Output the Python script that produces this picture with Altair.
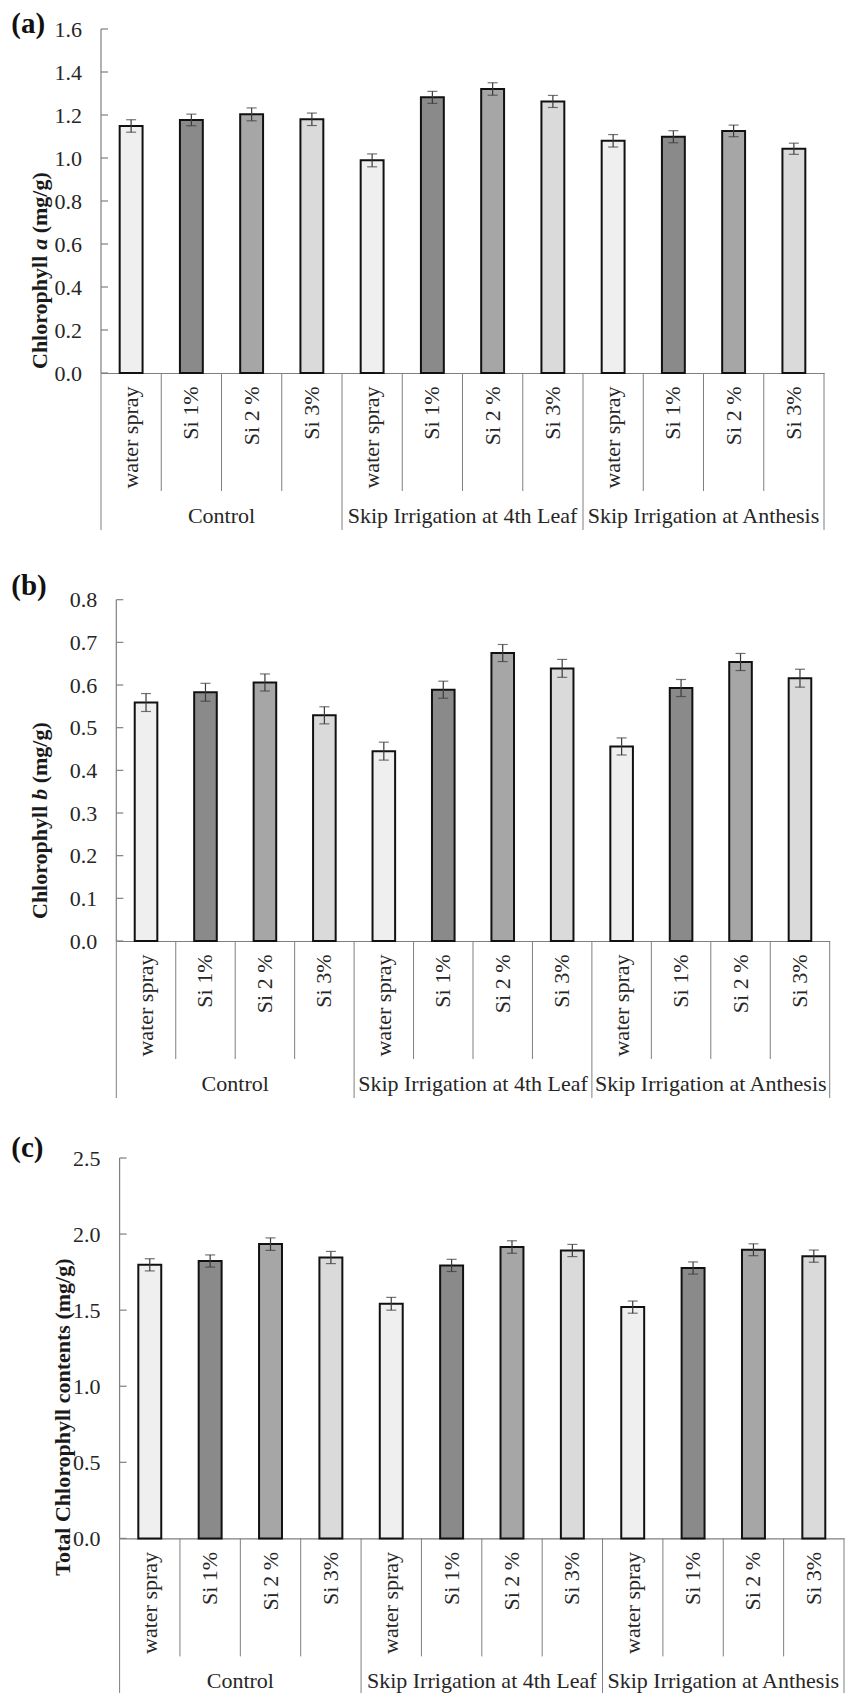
import altair as alt
import pandas as pd

groups = ["Control", "Skip Irrigation at 4th Leaf", "Skip Irrigation at Anthesis"]
treatments = ["water spray", "Si 1%", "Si 2 %", "Si 3%"]

chl_a = [1.149, 1.177, 1.203, 1.180, 0.989, 1.282, 1.321, 1.263, 1.080, 1.099, 1.126, 1.043]
chl_a_se = [0.029, 0.027, 0.030, 0.029, 0.030, 0.028, 0.029, 0.028, 0.029, 0.028, 0.027, 0.026]
chl_b = [0.559, 0.583, 0.606, 0.529, 0.445, 0.589, 0.675, 0.639, 0.456, 0.593, 0.654, 0.616]
chl_b_se = [0.021, 0.021, 0.020, 0.020, 0.021, 0.020, 0.020, 0.021, 0.020, 0.020, 0.020, 0.021]
chl_t = [1.798, 1.823, 1.934, 1.846, 1.542, 1.794, 1.915, 1.892, 1.520, 1.777, 1.897, 1.855]
chl_t_se = [0.040, 0.040, 0.041, 0.040, 0.042, 0.040, 0.041, 0.040, 0.040, 0.040, 0.039, 0.040]

ticks_a = [0.0, 0.2, 0.4, 0.6, 0.8, 1.0, 1.2, 1.4, 1.6]
ticks_b = [0.0, 0.1, 0.2, 0.3, 0.4, 0.5, 0.6, 0.7, 0.8]
ticks_c = [0.0, 0.5, 1.0, 1.5, 2.0, 2.5]

FONT = "Liberation Serif"
INK = "#262626"
LINE = "#7f7f7f"
ERR = "#3a3a3a"
FILLS = ["#efefef", "#8a8a8a", "#a6a6a6", "#dadada"]

keys = [f"{g}|{t}" for g in groups for t in treatments]


def one(label):
    return pd.DataFrame({"label": [label]})


def make_panel(values, errs, ticks, dmax, width, height, xoff, title_parts,
               title_x, title_bottom, letter, letter_y, anchor=False):
    df = pd.DataFrame({
        "key": keys,
        "group": [g for g in groups for t in treatments],
        "treat": [t for g in groups for t in treatments],
        "pos": [i for g in groups for i, t in enumerate(treatments)],
        "v": values,
        "lo": [v - e for v, e in zip(values, errs)],
        "hi": [v + e for v, e in zip(values, errs)],
    })
    xscale = alt.Scale(domain=keys, range=[xoff, xoff + width],
                       paddingInner=0, paddingOuter=0)
    xaxis = alt.Axis(title=None, labelExpr="split(datum.label, '|')[1]",
                     labelAngle=270, labelAlign="right", labelBaseline="middle",
                     labelPadding=13, labelFont=FONT, labelFontSize=22,
                     labelColor=INK, labelOverlap=False, labelLimit=300,
                     ticks=False, tickSize=0, domain=True, domainColor=LINE,
                     domainWidth=1.2, grid=False)
    yscale = alt.Scale(domain=[0, dmax], nice=False, zero=True)
    yaxis = alt.Axis(title=None, values=ticks, format=".1f", domain=False,
                     ticks=False, tickSize=0, labelPadding=19.5,
                     offset=(-xoff if xoff else 0), labelFont=FONT,
                     labelFontSize=22, labelColor=INK, grid=False)

    def X(bp=None):
        if bp is None:
            return alt.X("key:N", scale=xscale, axis=xaxis, sort=keys)
        return alt.X("key:N", scale=xscale, axis=xaxis, sort=keys, bandPosition=bp)

    def Y(f):
        return alt.Y(f"{f}:Q", scale=yscale, axis=yaxis)

    bars = alt.Chart(df).mark_bar(width={"band": 0.38}, stroke="#111111",
                                  strokeWidth=2).encode(
        x=X(), y=Y("v"),
        fill=alt.Fill("treat:N", scale=alt.Scale(domain=treatments, range=FILLS),
                      legend=None))
    err = alt.Chart(df).mark_rule(color=ERR, strokeWidth=1.2).encode(
        x=X(), y=Y("lo"), y2=alt.Y2("hi"))
    cap_lo = alt.Chart(df).mark_tick(color=ERR, thickness=1.2, size=10).encode(
        x=X(), y=Y("lo"))
    cap_hi = alt.Chart(df).mark_tick(color=ERR, thickness=1.2, size=10).encode(
        x=X(), y=Y("hi"))

    yline = alt.Chart(pd.DataFrame({"y0": [ticks[0]], "y1": [ticks[-1]]})).mark_rule(
        color=LINE, strokeWidth=1.2).encode(x=alt.value(xoff), y=Y("y0"), y2=alt.Y2("y1"))
    yticks = alt.Chart(pd.DataFrame({"tv": ticks})).mark_rule(
        color=LINE, strokeWidth=1.2).encode(
        x=alt.value(xoff), x2=alt.value(xoff + 7), y=Y("tv"))

    sep = alt.Chart(df).mark_rule(color=LINE, strokeWidth=1)
    inner = sep.transform_filter("datum.pos > 0").encode(
        x=X(0), y=alt.value(height), y2=alt.value(height + 118))
    outer = sep.transform_filter("datum.pos == 0").encode(
        x=X(0), y=alt.value(height), y2=alt.value(height + 157))
    end = sep.transform_filter(f"datum.key == '{keys[-1]}'").encode(
        x=X(1), y=alt.value(height), y2=alt.value(height + 157))

    glabels = alt.Chart(df).transform_filter("datum.pos == 2").mark_text(
        font=FONT, fontSize=22, color=INK, baseline="middle", align="center").encode(
        x=X(0), y=alt.value(height + 143), text="group:N")

    layers = [bars, err, cap_lo, cap_hi, yline, yticks, inner, outer, end, glabels]

    for text, italic, off in title_parts:
        layers.append(alt.Chart(one(text)).mark_text(
            font=FONT, fontSize=22, fontWeight="bold",
            fontStyle=("italic" if italic else "normal"), angle=270,
            align="left", baseline="alphabetic", color="#1a1a1a").encode(
            x=alt.value(title_x), y=alt.value(title_bottom - off), text="label:N"))

    layers.append(alt.Chart(one(letter)).mark_text(
        font=FONT, fontSize=29, fontWeight="bold", align="left",
        baseline="alphabetic", color="#111111").encode(
        x=alt.value(-89.7), y=alt.value(letter_y), text="label:N"))

    if anchor:
        layers.append(alt.Chart(one("")).mark_rule(opacity=0, strokeWidth=0.01).encode(
            x=alt.value(-92.7), x2=alt.value(-92.7),
            y=alt.value(-20.3), y2=alt.value(-20.3)))

    return alt.layer(*layers).properties(width=744, height=height)


FS = 22 / 1000.0
w_chl = 5168 * FS
w_sp = 250 * FS
w_a = 500 * FS

parts_ab = lambda letter: [
    ("Chlorophyll", False, 0),
    (letter, True, w_chl + w_sp),
    ("(mg/g)", False, w_chl + w_sp + w_a + w_sp),
]

pa = make_panel(chl_a, chl_a_se, ticks_a, 1.6, 723, 344, 0,
                parts_ab("a"), -53.7, 340, "(a)", 4, anchor=True)
pb = make_panel(chl_b, chl_b_se, ticks_b, 0.8 * 351 / 341.3, 713.4, 351, 15.3,
                parts_ab("b"), -54.2, 329, "(b)", 4.7)
pc = make_panel(chl_t, chl_t_se, ticks_c, 2.5, 724.4, 380.4, 18.6,
                [("Total Chlorophyll contents (mg/g)", False, 0)],
                -31.1, 417.7, "(c)", -1.3)

chart = alt.vconcat(pa, pb, pc, spacing=217, bounds="flush").properties(
    padding=0).configure_view(stroke=None)

chart.save("out.html", embed_options={"renderer": "svg", "actions": False})
